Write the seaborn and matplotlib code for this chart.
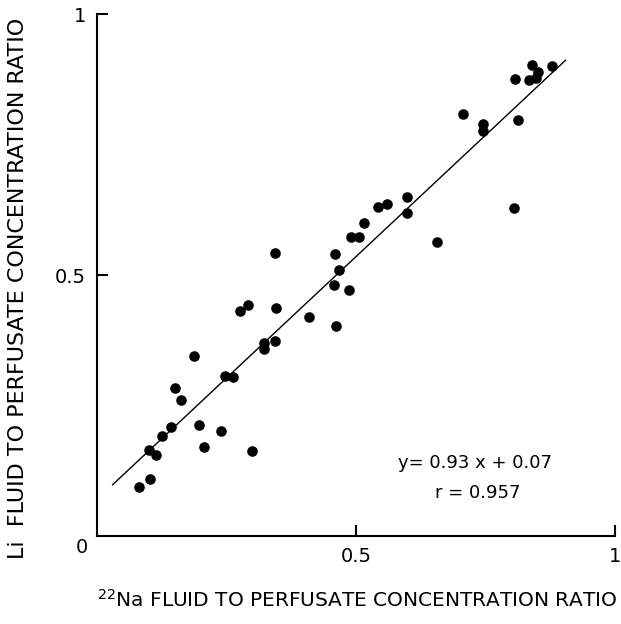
import numpy as np
import pandas as pd
import matplotlib
matplotlib.use("Agg")
import matplotlib.pyplot as plt
import seaborn as sns

sns.set_style("white")
plt.rcParams["font.family"] = ["DejaVu Sans"]
plt.rcParams["mathtext.default"] = "regular"
plt.rcParams["text.color"] = "black"
plt.rcParams["xtick.color"] = "black"
plt.rcParams["ytick.color"] = "black"
plt.rcParams["axes.labelcolor"] = "black"

# 22Na vs Li fluid-to-perfusate concentration ratios
na_ratio = [0.840, 0.878, 0.851, 0.847, 0.835, 0.807, 0.706, 0.746, 0.746, 0.813,
            0.806, 0.598, 0.599, 0.560, 0.542, 0.516, 0.506, 0.491, 0.656, 0.344,
            0.459, 0.467, 0.458, 0.487, 0.462, 0.410, 0.277, 0.291, 0.346, 0.323,
            0.323, 0.343, 0.187, 0.248, 0.263, 0.151, 0.163, 0.144, 0.126, 0.101,
            0.115, 0.198, 0.240, 0.207, 0.299, 0.081, 0.103]
li_ratio = [0.902, 0.901, 0.889, 0.878, 0.874, 0.875, 0.809, 0.789, 0.775, 0.797,
            0.629, 0.650, 0.619, 0.637, 0.631, 0.600, 0.572, 0.573, 0.563, 0.543,
            0.540, 0.510, 0.481, 0.471, 0.402, 0.420, 0.432, 0.443, 0.436, 0.370,
            0.358, 0.373, 0.344, 0.307, 0.305, 0.283, 0.261, 0.208, 0.192, 0.165,
            0.155, 0.213, 0.201, 0.171, 0.163, 0.094, 0.109]

slope, intercept, r_value = 0.93, 0.07, 0.957
fit_x = [0.03, 0.905]

df = pd.DataFrame({"na": na_ratio, "li": li_ratio})
fit = pd.DataFrame({"x": fit_x, "y": [slope * v + intercept for v in fit_x]})

fig = plt.figure(figsize=(6.21, 6.24), dpi=100)
ax = fig.add_axes([0.156, 0.141, 0.834, 0.8365])

sns.lineplot(data=fit, x="x", y="y", ax=ax, color="black", linewidth=1.0)
sns.scatterplot(data=df, x="na", y="li", ax=ax, color="black", s=58,
                edgecolor="black", linewidth=0)

ax.set_xlim(0, 1)
ax.set_ylim(0, 1)
for side in ["top", "right"]:
    ax.spines[side].set_visible(False)
for side in ["left", "bottom"]:
    ax.spines[side].set_linewidth(1.5)
    ax.spines[side].set_color("black")

ax.set_xticks([0.5, 1])
ax.set_xticklabels(["0.5", "1"])
ax.set_yticks([0.5, 1])
ax.set_yticklabels(["0.5", "1"])
ax.tick_params(direction="in", length=8, width=1.5, color="black",
               labelsize=14, pad=8, bottom=True, left=True)
ax.text(-0.018, -0.022, "0", transform=ax.transAxes, ha="right", va="center",
        fontsize=14)

ax.set_xlabel(r"$^{22}$Na FLUID TO PERFUSATE CONCENTRATION RATIO", fontsize=14.5)
ax.xaxis.set_label_coords(0.0, -0.123)
ax.xaxis.label.set_ha("left")
ax.xaxis.label.set_va("center")
ax.set_ylabel("Li  FLUID TO PERFUSATE CONCENTRATION RATIO", fontsize=16)
ax.yaxis.set_label_coords(-0.152, 0.475)
ax.yaxis.label.set_ha("center")
ax.yaxis.label.set_va("center")

ax.text(0.73, 0.14, f"y= {slope} x + {intercept}", transform=ax.transAxes,
        ha="center", va="center", fontsize=13)
ax.text(0.735, 0.082, f"r = {r_value}", transform=ax.transAxes,
        ha="center", va="center", fontsize=13)

fig.savefig("out.png", dpi=100)
